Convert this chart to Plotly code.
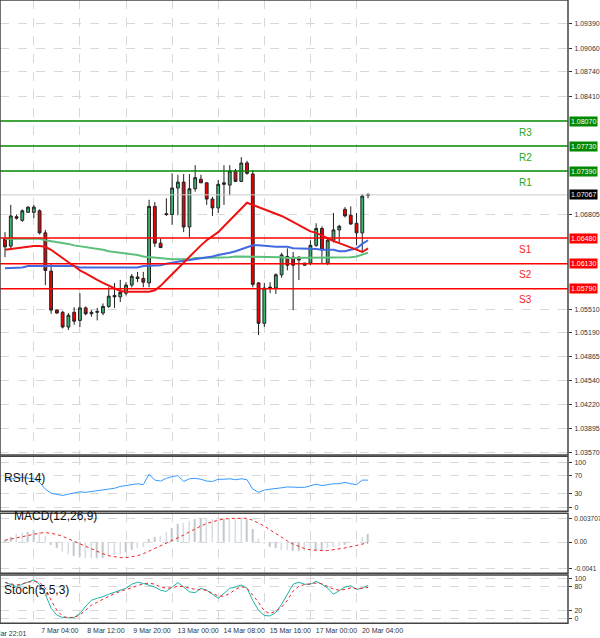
import plotly.graph_objects as go
from plotly.subplots import make_subplots

idx = list(range(1, 65))
opens = [1.0647,1.0637,1.0677,1.0672,1.0683,1.0683,1.0685,1.0655,1.0603,1.0550,1.0547,1.0527,1.0547,1.0536,1.0553,1.0545,1.0547,1.0546,1.0555,1.0570,
         1.0568,1.0573,1.0584,1.0595,1.0593,1.0587,1.0691,1.0641,1.0681,1.0680,1.0716,1.0724,1.0663,1.0715,1.0728,1.0723,1.0701,1.0689,1.0721,1.0720,
         1.0739,1.0725,1.0750,1.0735,1.0587,1.0532,1.0580,1.0580,1.0598,1.0623,1.0622,1.0622,1.0611,1.0614,1.0638,1.0661,1.0614,1.0645,1.0659,1.0687,
         1.0679,1.0668,1.0655,1.0706]
highs = [1.0656,1.0693,1.0680,1.0687,1.0691,1.0693,1.0687,1.0659,1.0614,1.0551,1.0549,1.0546,1.0554,1.0573,1.0555,1.0550,1.0553,1.0559,1.0581,1.0587,
         1.0591,1.0588,1.0599,1.0602,1.0602,1.0700,1.0697,1.0647,1.0702,1.0736,1.0734,1.0735,1.0735,1.0747,1.0734,1.0724,1.0704,1.0727,1.0747,1.0747,
         1.0742,1.0758,1.0753,1.0740,1.0588,1.0587,1.0588,1.0600,1.0628,1.0634,1.0629,1.0623,1.0614,1.0645,1.0668,1.0664,1.0649,1.0682,1.0666,1.0690,
         1.0691,1.0682,1.0708,1.0709]
lows = [1.0622,1.0632,1.0673,1.0670,1.0682,1.0675,1.0653,1.0584,1.0545,1.0545,1.0525,1.0523,1.0530,1.0527,1.0543,1.0541,1.0536,1.0543,1.0553,1.0553,
        1.0561,1.0570,1.0581,1.0588,1.0581,1.0581,1.0636,1.0636,1.0678,1.0666,1.0679,1.0656,1.0649,1.0711,1.0723,1.0693,1.0678,1.0682,1.0693,1.0706,
        1.0724,1.0724,1.0734,1.0581,1.0516,1.0527,1.0573,1.0572,1.0594,1.0604,1.0550,1.0591,1.0610,1.0611,1.0636,1.0614,1.0611,1.0642,1.0642,1.0676,
        1.0666,1.0638,1.0628,1.0702]
closes = [1.0636,1.0678,1.0675,1.0685,1.0690,1.0690,1.0655,1.0604,1.0550,1.0546,1.0527,1.0543,1.0535,1.0553,1.0545,1.0547,1.0548,1.0555,1.0569,1.0568,
          1.0574,1.0584,1.0596,1.0593,1.0588,1.0691,1.0641,1.0635,1.0680,1.0716,1.0724,1.0663,1.0715,1.0730,1.0723,1.0701,1.0689,1.0721,1.0723,1.0739,
          1.0725,1.0750,1.0736,1.0585,1.0532,1.0580,1.0581,1.0598,1.0625,1.0611,1.0611,1.0618,1.0614,1.0638,1.0661,1.0632,1.0645,1.0659,1.0664,1.0678,
          1.0667,1.0655,1.0705,1.0707]
ma_red = [1.0632,1.0633,1.0634,1.0636,1.0637,1.0637,1.0637,1.0636,1.0632,1.0626,1.0621,1.0615,1.0610,1.0604,1.0600,1.0595,1.0591,1.0587,1.0583,1.0579,
          1.0576,1.0575,1.0575,1.0575,1.0575,1.0575,1.0577,1.0583,1.0591,1.0599,1.0607,1.0614,1.0622,1.0630,1.0638,1.0645,1.0651,1.0656,1.0664,1.0672,
          1.0681,1.0689,1.0696,1.0693,1.0690,1.0688,1.0685,1.0682,1.0678,1.0674,1.0670,1.0666,1.0661,1.0657,1.0655,1.0651,1.0647,1.0644,1.0641,1.0638,
          1.0636,1.0632,1.0629,1.0634]
ma_blue = [1.0607,1.0607,1.0608,1.0608,1.0610,1.0610,1.0611,1.0611,1.0611,1.0611,1.0610,1.0610,1.0610,1.0608,1.0608,1.0608,1.0608,1.0608,1.0608,1.0608,
           1.0608,1.0608,1.0608,1.0608,1.0610,1.0610,1.0610,1.0611,1.0613,1.0614,1.0615,1.0617,1.0618,1.0619,1.0621,1.0622,1.0623,1.0625,1.0626,1.0628,
           1.0630,1.0633,1.0636,1.0638,1.0638,1.0637,1.0637,1.0636,1.0636,1.0636,1.0634,1.0634,1.0634,1.0633,1.0633,1.0632,1.0632,1.0632,1.0630,1.0630,
           1.0632,1.0634,1.0640,1.0645]
ma_green = [1.0647,1.0647,1.0647,1.0647,1.0647,1.0647,1.0647,1.0645,1.0644,1.0642,1.0641,1.0640,1.0638,1.0637,1.0636,1.0634,1.0633,1.0632,1.0630,1.0629,
            1.0628,1.0626,1.0626,1.0625,1.0623,1.0622,1.0621,1.0621,1.0619,1.0619,1.0619,1.0619,1.0619,1.0621,1.0621,1.0621,1.0621,1.0622,1.0622,1.0622,
            1.0623,1.0623,1.0623,1.0623,1.0623,1.0622,1.0622,1.0622,1.0622,1.0621,1.0621,1.0621,1.0621,1.0621,1.0621,1.0621,1.0621,1.0621,1.0621,1.0622,
            1.0622,1.0623,1.0626,1.0628]
rsi = [60,63,65,66,65,63,55,40,31,28,26,29,31,34,33,35,36,38,41,42,46,48,51,52,50,73,60,58,64,68,70,57,63,64,62,58,57,62,62,63,
       61,63,61,40,33,38,40,41,43,45,44,44,44,48,51,48,50,52,52,55,52,50,60,60]
macd_hist = [3,8,12,14,16,18,16,10,-4,-10,-15,-19,-22,-23,-24,-25,-24,-24,-22,-20,-18,-15,-12,-9,-7,5,8,10,15,22,28,30,33,36,37,36,35,36,36,37,
             36,37,36,20,5,-3,-8,-10,-12,-13,-14,-14,-14,-13,-12,-12,-10,-8,-6,-4,-2,2,8,12]
macd_signal = [3,5,7,9,11,13,14,15,14,12,9,5,1,-3,-7,-11,-15,-18,-21,-23,-24,-24,-23,-21,-18,-14,-10,-6,-2,2,6,11,16,21,25,29,32,34,36,37,
               37,37,37,34,30,25,19,13,7,2,-3,-7,-10,-12,-13,-13,-13,-12,-11,-9,-7,-5,-3,-1]
stoch_main = [90,85,79,85,90,96,85,60,25,8,2,1,2,12,30,45,50,54,60,65,71,75,85,90,87,83,78,70,67,78,89,78,66,64,75,70,60,50,62,75,
              78,83,75,44,20,7,6,15,35,60,85,90,85,85,92,85,75,60,68,78,81,72,75,82]
stoch_signal = [89,86,83,86,90,92,90,75,45,20,5,1,3,8,20,33,40,48,55,62,67,72,78,83,86,88,85,78,75,76,80,79,75,72,71,70,62,56,55,62,
                72,79,75,58,40,18,12,18,28,45,68,80,84,86,88,86,80,73,70,72,76,74,75,77]
levels = [1.0807, 1.0773, 1.0739, 1.0648, 1.0613, 1.0579]
level_names = ["R3", "R2", "R1", "S1", "S2", "S3"]
level_text = ["1.08070", "1.07730", "1.07390", "1.06480", "1.06130", "1.05790"]
price_ticks = [1.09390,1.09060,1.08740,1.08410,1.06805,1.05510,1.05190,1.04865,1.04540,1.04220,1.03895,1.03570]
date_pos = [6, 14, 22, 30, 38, 46, 54, 62]
date_text = ["7 Mar 04:00","8 Mar 12:00","9 Mar 20:00","13 Mar 00:00","14 Mar 08:00","15 Mar 16:00","17 Mar 00:00","20 Mar 04:00"]
first_date = "6 Mar 22:01"
last_price = 1.07067

fig = make_subplots(rows=4, cols=1, shared_xaxes=True)
fig.add_trace(go.Candlestick(x=idx, open=opens, high=highs, low=lows, close=closes,
    increasing=dict(fillcolor="#3cb371", line=dict(color="#222", width=1)),
    decreasing=dict(fillcolor="#ee0000", line=dict(color="#222", width=1)),
    whiskerwidth=0, showlegend=False), row=1, col=1)
fig.add_trace(go.Scatter(x=idx, y=ma_green, mode="lines", line=dict(color="#5cbf7c", width=2), showlegend=False), 1, 1)
fig.add_trace(go.Scatter(x=idx, y=ma_blue, mode="lines", line=dict(color="#4169e1", width=2), showlegend=False), 1, 1)
fig.add_trace(go.Scatter(x=idx, y=ma_red, mode="lines", line=dict(color="#ee1111", width=2), showlegend=False), 1, 1)
fig.add_trace(go.Scatter(x=idx, y=rsi, mode="lines", line=dict(color="#3399ff", width=1), showlegend=False), 2, 1)
fig.add_trace(go.Bar(x=idx, y=[v*1e-4 for v in macd_hist], marker_color="#c0c0c0", width=0.25, showlegend=False), 3, 1)
fig.add_trace(go.Scatter(x=idx, y=[v*1e-4 for v in macd_signal], mode="lines", line=dict(color="#ee2222", width=1, dash="dot"), showlegend=False), 3, 1)
fig.add_trace(go.Scatter(x=idx, y=stoch_main, mode="lines", line=dict(color="#20b2aa", width=1), showlegend=False), 4, 1)
fig.add_trace(go.Scatter(x=idx, y=stoch_signal, mode="lines", line=dict(color="#ee2222", width=1, dash="dot"), showlegend=False), 4, 1)

grid = dict(showgrid=True, gridcolor="#d8d8d8", griddash="dash", gridwidth=1)
tickf = dict(size=7, color="#333", family="Arial")
doms = [[0.272, 1.0], [0.182, 0.270], [0.083, 0.179], [0.003, 0.080]]
for r in range(1, 5):
    fig.update_xaxes(row=r, col=1, range=[0.13, 98.7], tickvals=date_pos, ticktext=date_text, automargin=False,
                     showticklabels=(r == 4), ticks="", zeroline=False, rangeslider_visible=False, **grid)
    fig.update_yaxes(row=r, col=1, domain=doms[r-1], side="right", ticks="outside", ticklen=3, automargin=False,
                     tickcolor="#333", tickfont=tickf, zeroline=False, ticklabelstandoff=1, **grid)
fig.update_xaxes(row=4, col=1, tickfont=dict(size=7, color="#333", family="Arial"), tickangle=0,
                 ticklabelshift=26, ticklabelstandoff=2)
fig.update_yaxes(row=1, col=1, range=[1.0353, 1.09716], tickvals=price_ticks, tickformat=".5f")
fig.update_yaxes(row=2, col=1, range=[-9, 113], tickvals=[0, 30, 70, 100])
fig.update_yaxes(row=3, col=1, range=[-0.0048, 0.0045], tickvals=[-0.0041, 0, 0.003707], ticktext=["-0.0041", "0.00", "0.003707"],
                 tickfont=dict(size=6.5, color="#333", family="Arial"))
fig.update_yaxes(row=4, col=1, range=[-12, 108], tickvals=[0, 20, 80, 100])

shapes = []
for lv, nm in zip(levels, level_names):
    col = "#008800" if nm.startswith("R") else "#ff0000"
    shapes.append(dict(type="line", xref="x domain", yref="y", x0=0, x1=1.0, y0=lv, y1=lv, line=dict(color=col, width=1.5)))
shapes.append(dict(type="line", xref="x domain", yref="y", x0=0, x1=1, y0=last_price, y1=last_price, line=dict(color="#cccccc", width=1)))
for d in doms:
    shapes.append(dict(type="rect", xref="paper", yref="paper", x0=0, x1=1, y0=d[0], y1=d[1], line=dict(color="#444", width=1.5)))
annos = []
for lv, nm, tx in zip(levels, level_names, level_text):
    col = "#22aa22" if nm.startswith("R") else "#ff2222"
    bcol = "#008800" if nm.startswith("R") else "#ff0000"
    annos.append(dict(x=0.94, xref="x domain", y=lv, yref="y", text=nm, showarrow=False, yshift=-11,
                      font=dict(size=10, color=col, family="Arial")))
    annos.append(dict(x=1.002, xref="x domain", y=lv, yref="y", text=tx, showarrow=False, xanchor="left",
                      bgcolor=bcol, font=dict(size=7, color="white", family="Arial"), borderpad=1))
annos.append(dict(x=1.002, xref="x domain", y=last_price, yref="y", text="1.07067", showarrow=False, xanchor="left",
                  bgcolor="#000", font=dict(size=7, color="white", family="Arial"), borderpad=1))
for txt, yy, xx in [("RSI(14)", 0.221, 0.003), ("MACD(12,26,9)", 0.16, 0.022), ("Stoch(5,5,3)", 0.042, 0.003)]:
    annos.append(dict(x=xx, xref="paper", y=yy, yref="paper", text=txt, showarrow=False, xanchor="left",
                      font=dict(size=12, color="#111", family="Arial")))
annos.append(dict(x=0.05, xref="paper", y=-0.004, yref="paper", text=first_date, showarrow=False, xanchor="right", yanchor="top",
                  font=dict(size=7, color="#333", family="Arial")))

fig.update_layout(width=600, height=638, margin=dict(l=0, r=32, t=0, b=13, autoexpand=False),
                  paper_bgcolor="white", plot_bgcolor="white", bargap=0,
                  shapes=shapes, annotations=annos)
fig.write_html("out.html", config={"displayModeBar": False}, post_script="document.body.style.margin='0';")
